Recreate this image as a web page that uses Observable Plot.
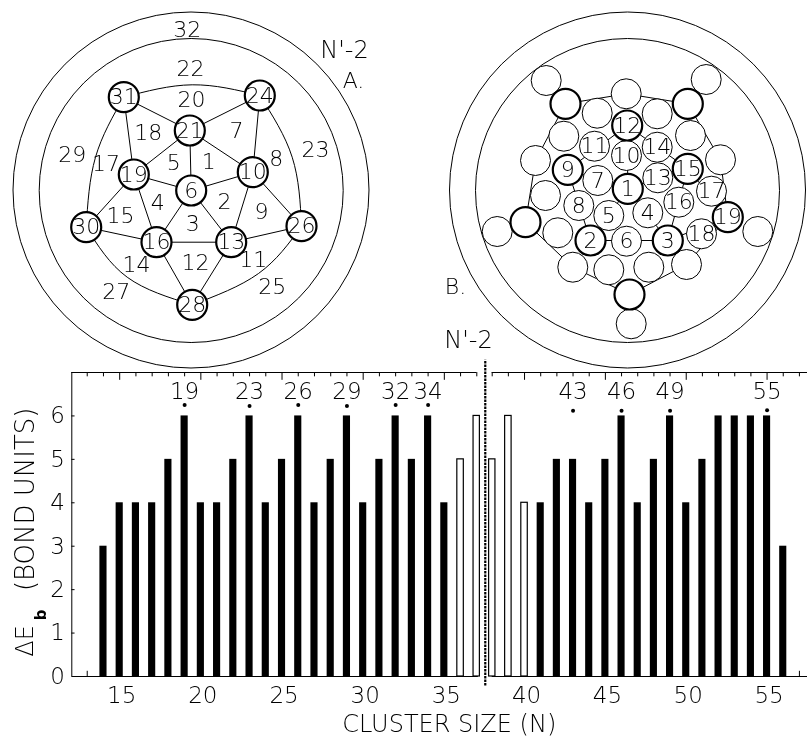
<!DOCTYPE html>
<html><head><meta charset="utf-8">
<style>html,body{margin:0;padding:0;background:#fff}#wrap{position:relative;width:807px;height:738px;overflow:hidden}#wrap svg{position:absolute;left:0;top:0;will-change:transform}</style>
<script src="https://cdn.jsdelivr.net/npm/d3@7"></script>
<script src="https://cdn.jsdelivr.net/npm/@observablehq/plot@0.6"></script>
</head><body><div id="wrap"></div>
<script>
// ---- Bar chart values
const sizes = [14,15,16,17,18,19,20,21,22,23,24,25,26,27,28,29,30,31,32,33,34,35,36,37,38,39,40,41,42,43,44,45,46,47,48,49,50,51,52,53,54,55,56];
const deltaEb = [3,4,4,4,5,6,4,4,5,6,4,5,6,4,5,6,4,5,6,5,6,4,5,6,5,6,4,4,5,5,4,5,6,4,5,6,4,5,6,6,6,6,3];
const openSizes = [36,37,38,39,40];
const magicSizes = [19,23,26,29,32,34,43,46,49,55];
const magicDotLevel = [6.25,6.23,6.25,6.23,6.25,6.25,6.12,6.12,6.12,6.13];
const xTickLabels = [15,20,25,30,35,40,45,50,55];
const yTickLabels = [0,1,2,3,4,5,6];
const topTicksLeft = [13,14,15,16,17,18,19,20,21,22,23,24,25,26,27,28,29,30,31,32,33,34,35,36,37];
const topTicksRight = [38,39,40,41,42,43,44,45,46,47,48,49,50,51,52,53,54,55,56,57];
const bottomTicks = [13,57];

// ---- Diagram A (figure units)
const nodeIdsA = [31,24,21,19,10,6,30,16,13,26,28];
const nodeXA = [123.3,259.3,189.3,133.3,252.3,190.7,85.7,156,230.7,301,191.7];
const nodeYA = [96.7,95,130,174,171.7,190,226.7,241.7,241.7,225.7,304.3];
const edgesA = [[31,21],[24,21],[31,19],[21,19],[21,6],[21,10],[24,10],[19,6],[6,10],[19,16],[19,30],[6,16],[6,13],[10,13],[10,26],[30,16],[16,13],[13,26],[16,28],[13,28]];
const arcsA = [[31,191.7,84.3,24],[24,291.7,156.7,26],[26,258,273,28],[28,126.7,276.7,30],[30,95,156.7,31]];
const faceIdsA = [32,22,20,18,7,29,17,5,1,8,23,4,2,9,15,3,14,12,11,27,25];
const faceXA = [186.7,190,191,147.7,236,71.7,105.5,173.3,208.3,275.7,315,157.3,224,261,120,192.3,136,195,252.7,115.7,271.7];
const faceYA = [29,68.3,99,132.7,130.7,154.3,163.3,162.7,161.7,158.3,149.3,202.3,201.7,211.7,215,223.3,264.3,262.7,259,291,286.7];

// ---- Diagram B (figure units)
const thickIdsB = ["12","9","15","1","2","3","19","","","",""];
const thickXB = [626.7,567.3,687.3,627.3,590,667.3,727.3,565,687.3,525,629];
const thickYB = [125,169.3,168.3,188.3,240,240,216.7,103.3,103.3,221.7,294];
const thinIdsB = ["11","10","14","7","13","8","5","4","16","17","6","18","","","","","","","","","","","","","","","","","",""];
const thinXB = [594,626,656.7,597.3,657.3,578.3,608.3,647.3,678.3,711,626,701,545.7,705.7,625.7,596.7,656.7,563.3,690,535,720,545,496.7,557.3,757.3,572.3,608.3,648.3,686,630.7];
const thinYB = [145.7,155,146.7,180,177.3,205,215,212.3,201.7,190.7,240.7,233.3,80,79,93.3,112.7,113.3,135.7,135,160,159.3,195,231,232.3,231,266.7,269.3,266.7,264,323.3];
const outlineBX = [565,625.7,687.3,720,727.3,686,629,572.3,525,535,565];
const outlineBY = [103.3,93.3,103.3,159.3,216.7,264,294,266.7,221.7,160,103.3];
const spokesB = [["12","1"],["9","1"],["15","1"],["2","1"],["3","1"],["12","9"],["12","15"],["9","2"],["15","3"],["2","3"],["19","3"],["19","15"]];

const ink = "#000";
const fontFamily = "'DejaVu Sans', sans-serif";

// ---- build tables from arrays
const nodesA = nodeIdsA.map((id,i)=>({id, x:nodeXA[i], y:nodeYA[i]}));
const byIdA = new Map(nodesA.map(d=>[d.id,d]));
const linksA = edgesA.map(([a,b])=>({a:byIdA.get(a), b:byIdA.get(b)}));
const arcPtsA = arcsA.flatMap(([a,mx,my,b],i)=>[
  {z:i,x:byIdA.get(a).x,y:byIdA.get(a).y},{z:i,x:mx,y:my},{z:i,x:byIdA.get(b).x,y:byIdA.get(b).y}]);
const facesA = faceIdsA.map((id,i)=>({id,x:faceXA[i],y:faceYA[i]}));
const thickB = thickIdsB.map((id,i)=>({id,x:thickXB[i],y:thickYB[i]}));
const thinB = thinIdsB.map((id,i)=>({id,x:thinXB[i],y:thinYB[i]}));
const outlineB = outlineBX.map((x,i)=>({x,y:outlineBY[i]}));
const byIdB = new Map(thickB.filter(d=>d.id).map(d=>[d.id,d]));
const linksB = spokesB.map(([a,b])=>({a:byIdB.get(a), b:byIdB.get(b)}));

const rings = [{x:190.5,y:189.5,r:178},{x:190.7,y:190,r:152},{x:627,y:189.5,r:178},{x:627,y:190,r:152}];
const captions = [{t:"N'-2",x:344,y:50,s:24},{t:"A.",x:353,y:80,s:22},{t:"B.",x:455,y:286,s:22},{t:"N'-2",x:468,y:340,s:24}];

const diagram = Plot.plot({
  width:807,height:372,margin:0,
  x:{domain:[0,807],range:[0,807],axis:null},
  y:{domain:[0,372],range:[0,372],axis:null},
  style:{background:"transparent",fontFamily,fontWeight:200},
  marks:[
    ...rings.map(c=>Plot.dot([c],{x:"x",y:"y",r:c.r,stroke:ink,strokeWidth:1,fill:"none"})),
    Plot.line(arcPtsA,{x:"x",y:"y",z:"z",curve:"natural",stroke:ink,strokeWidth:1}),
    Plot.link(linksA,{x1:d=>d.a.x,y1:d=>d.a.y,x2:d=>d.b.x,y2:d=>d.b.y,stroke:ink,strokeWidth:1}),
    Plot.dot(nodesA,{x:"x",y:"y",r:15,fill:"#fff",stroke:ink,strokeWidth:2.2}),
    Plot.text(nodesA,{x:"x",y:"y",text:d=>String(d.id),fontSize:22,fill:ink}),
    Plot.text(facesA,{x:"x",y:"y",text:d=>String(d.id),fontSize:22,fill:ink}),
    Plot.line(outlineB,{x:"x",y:"y",stroke:ink,strokeWidth:1}),
    Plot.link(linksB,{x1:d=>d.a.x,y1:d=>d.a.y,x2:d=>d.b.x,y2:d=>d.b.y,stroke:ink,strokeWidth:1}),
    Plot.dot(thinB,{x:"x",y:"y",r:15,fill:"#fff",stroke:ink,strokeWidth:1}),
    Plot.dot(thickB,{x:"x",y:"y",r:15,fill:"#fff",stroke:ink,strokeWidth:2.2}),
    Plot.text(thinB,{x:"x",y:"y",text:"id",fontSize:22,fill:ink}),
    Plot.text(thickB,{x:"x",y:"y",text:"id",fontSize:22,fill:ink}),
    Plot.text(captions,{x:"x",y:"y",text:"t",fontSize:d=>d.s,fill:ink})
  ]
});

const bars = sizes.map((n,i)=>({n,v:deltaEb[i]}));
const solid = bars.filter(d=>!openSizes.includes(d.n));
const open = bars.filter(d=>openSizes.includes(d.n));
const magic = magicSizes.map((n,i)=>({n,level:magicDotLevel[i]}));
const major = n=>n%5===0;

const chart = Plot.plot({
  width:807,height:738,
  marginTop:372,marginBottom:62,marginLeft:70.5,marginRight:0,
  x:{type:"linear",domain:[12,37,38,57.5],range:[70.5,476.3,491.7,807],label:null},
  y:{domain:[0,7],label:null},
  style:{background:"transparent",fontFamily,fontWeight:200},
  marks:[
    Plot.ruleY([7],{x1:12.05,x2:37,stroke:ink,strokeWidth:1}),
    Plot.ruleY([7],{x1:38,x2:57.5,stroke:ink,strokeWidth:1}),
    Plot.ruleY([0],{x1:12.05,x2:37.1,stroke:ink,strokeWidth:1}),
    Plot.ruleY([0],{x1:38,x2:57.5,stroke:ink,strokeWidth:1}),
    Plot.ruleX([12.05],{y1:0,y2:7,stroke:ink,strokeWidth:1}),
    Plot.ruleX(topTicksLeft.concat(topTicksRight),{x:d=>d,y1:7,y2:d=>major(d)?6.82:6.9,stroke:ink,strokeWidth:1}),
    Plot.ruleX(bottomTicks,{x:d=>d,y1:0,y2:0.12,stroke:ink,strokeWidth:1}),
    Plot.ruleY(yTickLabels.slice(1),{y:d=>d,x1:12.05,x2:12.25,stroke:ink,strokeWidth:1}),
    Plot.rect(solid,{x1:d=>d.n-0.22,x2:d=>d.n+0.22,y1:0,y2:"v",fill:ink}),
    Plot.rect(open,{x1:d=>d.n-0.2,x2:d=>d.n+0.2,y1:0,y2:"v",fill:"#fff",stroke:ink,strokeWidth:1.2}),
    Plot.dot(magic,{x:"n",y:"level",r:2,fill:ink}),
    Plot.text(magic,{x:"n",y:6.56,text:d=>String(d.n),fontSize:23,fill:ink}),
    Plot.ruleX([37.55],{y1:-0.22,y2:7.28,stroke:ink,strokeWidth:2.2,strokeDasharray:"2.5 1"}),
    Plot.axisX({anchor:"bottom",ticks:xTickLabels,tickSize:0,tickPadding:10,dx:2,fontSize:23,label:null,tickFormat:d=>String(d)}),
    Plot.axisY({anchor:"left",ticks:yTickLabels,tickSize:0,tickPadding:6,fontSize:23,label:null,tickFormat:d=>String(d)}),
    Plot.text(["CLUSTER SIZE (N)"],{x:35.3,y:-1.1,text:d=>d,fontSize:24,fill:ink}),
    Plot.text(["(BOND UNITS)"],{y:4.08,frameAnchor:"left",textAnchor:"middle",dx:-45.5,rotate:-90,text:d=>d,fontSize:26,fill:ink}),
    Plot.text(["\u0394E"],{y:0.82,frameAnchor:"left",textAnchor:"middle",dx:-45.5,rotate:-90,text:d=>d,fontSize:24,fill:ink}),
    Plot.text(["b"],{y:1.42,frameAnchor:"left",textAnchor:"middle",dx:-30,rotate:-90,text:d=>d,fontSize:15,fontWeight:700,fill:ink})
  ]
});

const wrap = document.getElementById("wrap");
wrap.append(diagram);
wrap.append(chart);
</script></body></html>
